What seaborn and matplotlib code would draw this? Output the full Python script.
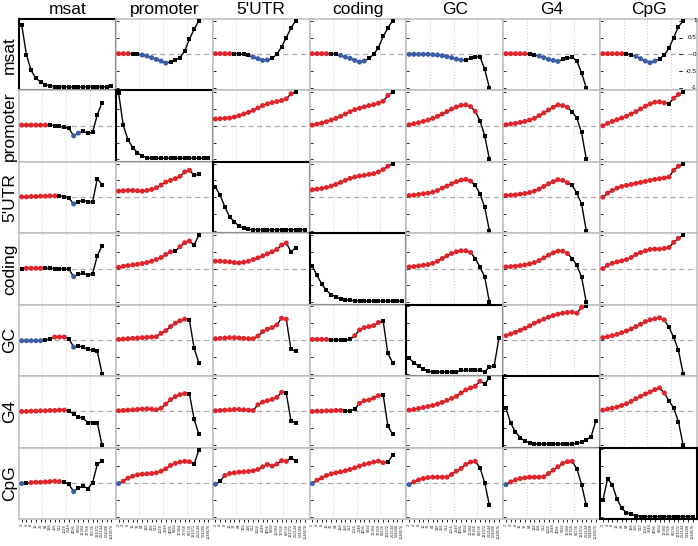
import numpy as np
import pandas as pd
import matplotlib
matplotlib.use("Agg")
import matplotlib.pyplot as plt
import seaborn as sns

sns.set_theme(style="white")
plt.rcParams['font.family'] = ['Liberation Sans', 'DejaVu Sans']

features = ["msat", "promoter", "5'UTR", "coding", "GC", "G4", "CpG"]
scale_labels = ["2", "4", "8", "16", "32", "64", "128", "256", "512", "1024", "2048",
                "4096", "8192", "16384", "32768", "65536", "131072", "262144",
                "524288", "1048576"]

# ---- off-diagonal correlation profiles (value, significance: r=pos, b=neg, k=n.s.)
msat_promoter = [0.02,0.02,0.02,0.02,0.01,-0.02,-0.05,-0.1,-0.15,-0.2,-0.26,-0.22,-0.17,-0.1,0.1,0.45,0.75,1.0]
msat_promoter_sig = "rrrkkbbbbbbkkkkkkk"
msat_5utr = [0.02,0.02,0.02,0.02,0.02,0.01,0.0,-0.03,-0.08,-0.13,-0.18,-0.17,-0.12,0.0,0.22,0.5,0.78,1.0]
msat_5utr_sig = "rrrrkkkkbbbbkkkkkk"
msat_coding = [0.02,0.02,0.02,0.02,0.02,0.0,-0.03,-0.08,-0.12,-0.18,-0.23,-0.2,-0.12,0.0,0.2,0.53,0.78,1.0]
msat_coding_sig = "rrrrkkbbbbbbkkkkkk"
msat_gc = [0.0,0.0,0.0,0.0,0.0,-0.01,-0.02,-0.04,-0.07,-0.1,-0.14,-0.17,-0.17,-0.12,-0.08,-0.07,-0.45,-1.0]
msat_gc_sig = "bbbbbbbbbbbbkkkkkk"
msat_g4 = [0.02,0.02,0.02,0.02,0.02,0.0,-0.02,-0.05,-0.1,-0.15,-0.18,-0.21,-0.15,-0.12,-0.08,-0.2,-0.55,-1.0]
msat_g4_sig = "rrrrrkkbbbbbkkkkkk"
msat_cpg = [0.02,0.02,0.02,0.02,0.02,0.01,-0.01,-0.06,-0.13,-0.2,-0.25,-0.2,-0.13,-0.02,0.18,0.5,0.82,1.0]
msat_cpg_sig = "rrrrrkkbbbbbkkkkkk"

promoter_msat = [0.02,0.02,0.02,0.02,0.02,0.02,0.02,0.0,-0.02,-0.04,-0.08,-0.3,-0.22,-0.17,-0.22,-0.2,0.33,0.68]
promoter_msat_sig = "rrrrrrkkkkkbbkkkkk"
promoter_5utr = [0.2,0.21,0.22,0.23,0.26,0.3,0.35,0.4,0.46,0.53,0.6,0.65,0.69,0.72,0.75,0.8,0.95,1.0]
promoter_5utr_sig = "rrrrrrrrrrrrrrrrrk"
promoter_coding = [0.02,0.05,0.08,0.12,0.17,0.22,0.28,0.35,0.42,0.48,0.52,0.56,0.6,0.63,0.67,0.73,0.9,1.0]
promoter_coding_sig = "rrrrrrrrrrrrrrrrrk"
promoter_gc = [0.03,0.06,0.09,0.13,0.17,0.22,0.28,0.35,0.42,0.5,0.56,0.61,0.62,0.57,0.43,0.15,-0.3,-1.0]
promoter_gc_sig = "rrrrrrrrrrrrrrrkkk"
promoter_g4 = [0.03,0.05,0.07,0.1,0.13,0.17,0.22,0.3,0.38,0.47,0.55,0.62,0.6,0.55,0.42,0.22,-0.2,-1.0]
promoter_g4_sig = "rrrrrrrrrrrrrrkkkk"
promoter_cpg = [0.0,0.07,0.13,0.18,0.23,0.28,0.35,0.42,0.5,0.58,0.65,0.7,0.71,0.68,0.66,0.82,0.93,1.0]
promoter_cpg_sig = "rrrrrrrrrrrrrrkrrk"

utr_msat = [0.01,0.01,0.02,0.02,0.03,0.03,0.04,0.04,0.03,0.02,-0.03,-0.2,-0.13,-0.1,-0.13,-0.15,0.55,0.37]
utr_msat_sig = "rrrrrrrrkkkbkkkkkk"
utr_promoter = [0.18,0.19,0.2,0.2,0.19,0.18,0.2,0.23,0.28,0.36,0.45,0.5,0.55,0.62,0.75,0.8,0.65,0.68]
utr_promoter_sig = "rrrrrrrrrrrrrrrrkk"
utr_coding = [0.22,0.24,0.26,0.29,0.33,0.38,0.44,0.5,0.56,0.6,0.63,0.65,0.68,0.7,0.75,0.82,0.92,1.0]
utr_coding_sig = "rrrrrrrrrrrrrrrrrk"
utr_gc = [0.05,0.06,0.08,0.1,0.12,0.15,0.2,0.27,0.33,0.4,0.46,0.51,0.53,0.48,0.35,0.1,-0.3,-1.0]
utr_gc_sig = "rrrrrrrrrrrrrrkkkk"
utr_g4 = [0.05,0.06,0.07,0.09,0.11,0.14,0.18,0.24,0.32,0.4,0.46,0.52,0.5,0.43,0.35,0.12,-0.2,-1.0]
utr_g4_sig = "rrrrrrrrrrrrrrkkkk"
utr_cpg = [0.0,0.12,0.2,0.27,0.32,0.35,0.38,0.41,0.44,0.47,0.5,0.53,0.55,0.57,0.6,0.8,0.92,1.0]
utr_cpg_sig = "rrrrrrrrrrrrrrrrrk"

coding_msat = [0.0,0.01,0.01,0.01,0.01,0.01,0.01,0.0,0.0,-0.01,-0.02,-0.24,-0.17,-0.14,-0.2,-0.15,0.38,0.68]
coding_msat_sig = "krrrrkkkkkkbkkkkkk"
coding_promoter = [0.04,0.07,0.09,0.11,0.13,0.15,0.18,0.22,0.27,0.33,0.42,0.5,0.52,0.65,0.77,0.82,0.7,1.0]
coding_promoter_sig = "rrrrrrrrrrrrkrrrkk"
coding_5utr = [0.22,0.22,0.21,0.2,0.18,0.17,0.19,0.22,0.27,0.32,0.38,0.44,0.5,0.57,0.7,0.76,0.5,0.62]
coding_5utr_sig = "rrrrrrrrrrrrrrrrkk"
coding_gc = [0.05,0.06,0.08,0.1,0.12,0.16,0.22,0.3,0.38,0.45,0.5,0.53,0.53,0.48,0.3,0.05,-0.25,-1.0]
coding_gc_sig = "rrrrrrrrrrrrrrkkkk"
coding_g4 = [0.05,0.06,0.07,0.09,0.11,0.14,0.18,0.24,0.32,0.4,0.47,0.52,0.52,0.45,0.3,0.1,-0.25,-1.0]
coding_g4_sig = "rrrrrrrrrrrrrrkkkk"
coding_cpg = [0.0,0.1,0.16,0.2,0.23,0.27,0.33,0.42,0.48,0.53,0.57,0.58,0.58,0.6,0.63,0.78,0.9,1.0]
coding_cpg_sig = "rrrrrrrrrrrrrrrrrk"

gc_msat = [-0.02,-0.02,-0.02,-0.02,-0.02,0.0,0.04,0.09,0.09,0.09,0.04,-0.21,-0.17,-0.22,-0.27,-0.3,-0.33,-1.0]
gc_msat_sig = "bbbbbkkrrrkbkkkkkk"
gc_promoter = [0.02,0.03,0.04,0.05,0.06,0.07,0.08,0.09,0.1,0.2,0.28,0.4,0.5,0.57,0.62,0.6,-0.25,-0.68]
gc_promoter_sig = "rrrrrrrrrrrrrrrkkk"
gc_5utr = [0.04,0.05,0.06,0.07,0.07,0.06,0.05,0.04,0.04,0.12,0.25,0.32,0.37,0.45,0.65,0.62,-0.28,-0.33]
gc_5utr_sig = "rrrrrrrrrrrrrrrrkk"
gc_coding = [0.02,0.02,0.02,0.02,0.0,0.0,0.0,0.0,0.02,0.13,0.3,0.37,0.4,0.43,0.52,0.57,-0.4,-0.67]
gc_coding_sig = "rrrrkkkkkrrrrrrkkk"
gc_g4 = [0.13,0.18,0.23,0.29,0.35,0.42,0.5,0.56,0.62,0.68,0.73,0.77,0.8,0.82,0.83,0.8,0.97,1.0]
gc_g4_sig = "rrrrrrrrrrrrrrrrrk"
gc_cpg = [0.07,0.1,0.13,0.17,0.22,0.27,0.33,0.4,0.47,0.55,0.6,0.63,0.66,0.6,0.38,0.08,-0.3,-1.0]
gc_cpg_sig = "rrrrrrrrrrrrrrkkkk"

g4_msat = [0.0,0.0,0.01,0.01,0.02,0.02,0.03,0.03,0.04,0.04,0.02,-0.08,-0.16,-0.2,-0.33,-0.33,-0.33,-1.0]
g4_msat_sig = "rrrrrrrrrrkkkkkkkk"
g4_promoter = [0.02,0.03,0.04,0.05,0.06,0.07,0.08,0.07,0.05,0.1,0.22,0.35,0.44,0.5,0.53,0.52,-0.23,-0.68]
g4_promoter_sig = "rrrrrrrrrrrrrrrkkk"
g4_5utr = [0.02,0.03,0.04,0.05,0.06,0.06,0.05,0.04,0.03,0.2,0.28,0.32,0.36,0.42,0.57,0.54,-0.28,-0.33]
g4_5utr_sig = "rrrrrrrrrrrrrrrkkk"
g4_coding = [0.0,0.01,0.01,0.02,0.02,0.03,0.03,0.02,0.02,0.07,0.24,0.32,0.34,0.4,0.47,0.5,-0.43,-0.68]
g4_coding_sig = "rrrrrrrkkkrrrrrkkk"
g4_gc = [0.04,0.06,0.09,0.12,0.15,0.18,0.22,0.27,0.33,0.39,0.45,0.55,0.64,0.7,0.75,0.9,0.82,1.0]
g4_gc_sig = "rrrrrrrrrrrrrrrrkk"
g4_cpg = [0.04,0.07,0.1,0.13,0.18,0.23,0.3,0.38,0.45,0.52,0.58,0.65,0.7,0.55,0.32,0.1,-0.3,-1.0]
g4_cpg_sig = "rrrrrrrrrrrrrrkkkk"

cpg_msat = [-0.02,0.0,0.01,0.02,0.02,0.03,0.04,0.05,0.04,0.03,-0.04,-0.26,-0.15,-0.1,-0.17,0.0,0.55,0.66]
cpg_msat_sig = "bkrrrrrrrkkbkkkkkk"
cpg_promoter = [-0.02,0.05,0.14,0.2,0.24,0.26,0.27,0.28,0.3,0.35,0.42,0.52,0.58,0.62,0.64,0.63,0.56,0.98]
cpg_promoter_sig = "brrrrrrrrrrrrrrrkk"
cpg_5utr = [-0.04,0.05,0.22,0.28,0.3,0.32,0.33,0.34,0.36,0.4,0.48,0.55,0.5,0.56,0.66,0.64,0.75,0.65]
cpg_5utr_sig = "bkrrrrrrrrrrrrrrkk"
cpg_coding = [-0.02,0.08,0.15,0.22,0.27,0.3,0.33,0.36,0.4,0.45,0.5,0.55,0.58,0.62,0.65,0.6,0.62,0.82]
cpg_coding_sig = "brrrrrrrrrrrrrrrkk"
cpg_gc = [-0.05,0.03,0.09,0.13,0.16,0.17,0.17,0.17,0.17,0.25,0.35,0.43,0.55,0.62,0.64,0.45,0.0,-0.67]
cpg_gc_sig = "brrrrrrrrrrrrrrkkk"
cpg_g4 = [-0.05,0.03,0.09,0.13,0.15,0.17,0.17,0.17,0.18,0.28,0.38,0.48,0.58,0.63,0.64,0.42,-0.05,-0.67]
cpg_g4_sig = "brrrrrrrrrrrrrrkkk"

# ---- diagonal profiles (relative height within panel)
diag_msat = [0.92,0.5,0.28,0.17,0.12,0.08,0.065,0.055,0.05,0.05,0.05,0.05,0.05,0.05,0.05,0.05,0.05,0.05,0.05,0.065]
diag_promoter = [0.97,0.51,0.31,0.2,0.13,0.08,0.06,0.05,0.05,0.05,0.05,0.05,0.05,0.05,0.05,0.05,0.05,0.05,0.05,0.05]
diag_5utr = [0.65,0.53,0.37,0.23,0.16,0.1,0.07,0.055,0.05,0.05,0.05,0.05,0.05,0.05,0.05,0.05,0.05,0.05,0.05,0.05]
diag_coding = [0.54,0.41,0.29,0.2,0.14,0.11,0.08,0.065,0.06,0.055,0.05,0.05,0.05,0.05,0.05,0.05,0.05,0.05,0.05,0.05]
diag_gc = [0.25,0.19,0.14,0.1,0.07,0.06,0.06,0.06,0.06,0.06,0.06,0.08,0.08,0.08,0.08,0.08,0.06,0.13,0.14,0.53]
diag_g4 = [0.55,0.34,0.22,0.14,0.09,0.07,0.05,0.05,0.05,0.05,0.05,0.05,0.05,0.05,0.05,0.06,0.08,0.11,0.15,0.37]
diag_cpg = [0.26,0.56,0.48,0.28,0.15,0.09,0.065,0.047,0.035,0.035,0.035,0.035,0.035,0.035,0.035,0.035,0.035,0.035,0.035,0.035]

row_keys = ["msat", "promoter", "utr", "coding", "gc", "g4", "cpg"]
col_keys = ["msat", "promoter", "5utr", "coding", "gc", "g4", "cpg"]
g = globals()
diag = [diag_msat, diag_promoter, diag_5utr, diag_coding, diag_gc, diag_g4, diag_cpg]

RED = "#E3232A"
BLUE = "#3B5DA9"
YLIM = (-1.073, 1.05)
XLIM = (0.43, 20.93)

fig = plt.figure(figsize=(6.98, 5.46), dpi=100)
FW, FH = 698.0, 546.0
L, T = 19.0, 19.0
W = (697.0 - 19.0) / 7
H = (519.0 - 19.0) / 7

for r in range(7):
    for c in range(7):
        ax = fig.add_axes([(L + c * W) / FW, 1 - (T + (r + 1) * H) / FH, W / FW, H / FH])
        ax.set_facecolor("white")
        if r == c:
            vals = diag[r]
            df = pd.DataFrame({"scale": np.arange(1, len(vals) + 1), "v": vals})
            sns.lineplot(data=df, x="scale", y="v", color="black", lw=1.0, ax=ax, sort=False)
            sns.scatterplot(data=df, x="scale", y="v", marker="s", s=6, color="black",
                            linewidth=0, ax=ax, zorder=3)
            ax.set_ylim(0, 1)
            tick_pos = [(t - YLIM[0]) / (YLIM[1] - YLIM[0]) for t in (-1, -0.5, 0, 0.5, 1)]
            for s in ax.spines.values():
                s.set_color("black"); s.set_linewidth(1.5)
                s.set_zorder(6)
        else:
            vals = g[f"{row_keys[r]}_{col_keys[c]}"]
            sig = g[f"{row_keys[r]}_{col_keys[c]}_sig"]
            df = pd.DataFrame({"scale": np.arange(1, len(vals) + 1), "v": vals, "sig": list(sig)})
            for xv in (5.4, 10.4, 15.4):
                ax.axvline(xv, color="#c8c8c8", lw=0.7, ls=(0, (1, 2)), zorder=0)
            ax.axhline(0, color="#aaaaaa", lw=0.9, ls=(0, (4, 3)), zorder=0.5)
            sns.lineplot(data=df, x="scale", y="v", color="black", lw=1.0, ax=ax, sort=False, zorder=2)
            sns.scatterplot(data=df[df.sig == "k"], x="scale", y="v", marker="s", s=6,
                            color="black", linewidth=0, ax=ax, zorder=3)
            sns.scatterplot(data=df[df.sig != "k"], x="scale", y="v", hue="sig",
                            palette={"r": RED, "b": BLUE}, marker="o", s=13, linewidth=0,
                            legend=False, ax=ax, zorder=4)
            ax.set_ylim(*YLIM)
            tick_pos = [-1, -0.5, 0, 0.5, 1]
            for s in ax.spines.values():
                s.set_color("#bdbdbd"); s.set_linewidth(1.1)
        ax.set_xlim(*XLIM)
        ax.set_xlabel(""); ax.set_ylabel("")
        ax.set_yticks(tick_pos)
        ax.set_yticklabels([])
        ax.tick_params(axis="y", direction="in", length=2.2, width=0.6, color="black",
                       left=(c > 0), right=False, pad=1)
        if r == 6:
            ax.set_xticks(np.arange(1, 21))
            ax.set_xticklabels(scale_labels, rotation=90, fontsize=2.8)
            ax.tick_params(axis="x", direction="out", length=2.5, width=0.6, color="black",
                           bottom=True, pad=1)
        else:
            ax.set_xticks([])
        if r == 0 and c == 6:
            for t, lab in zip((1, 0.5, 0, -0.5, -1), ("1", "0.5", "0", "-0.5", "-1")):
                ax.text(0.995, t, lab, transform=ax.get_yaxis_transform(), ha="right",
                        va="center", fontsize=4.5, color="black")
                ax.plot([0.815, 0.84], [t, t], transform=ax.get_yaxis_transform(),
                        color="black", lw=0.6, clip_on=False)

for i, name in enumerate(features):
    fig.text((L + (i + 0.5) * W) / FW, 1 - 9.5 / FH, name, ha="center", va="center",
             fontsize=12.5, color="black")
    fig.text(9.5 / FW, 1 - (T + (i + 0.5) * H) / FH, name, ha="center", va="center",
             rotation=90, fontsize=12.5, color="black")

fig.savefig("out.png", dpi=100)
